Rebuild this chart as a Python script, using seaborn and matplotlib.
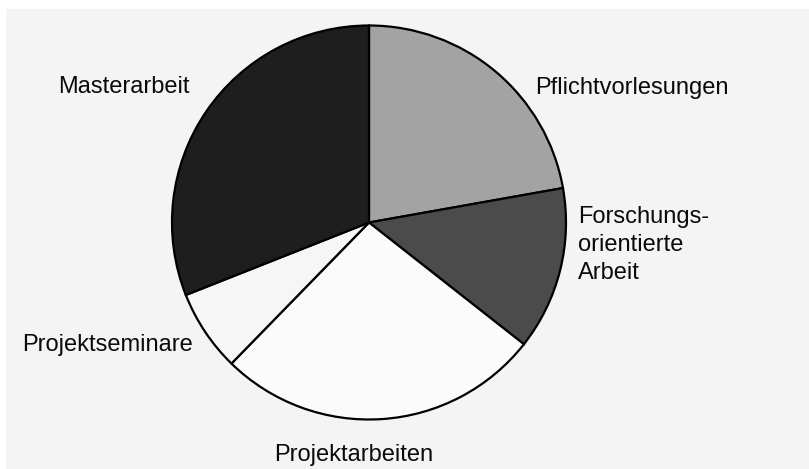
import matplotlib
matplotlib.use("Agg")
import matplotlib.pyplot as plt
import seaborn as sns
from matplotlib.patches import Rectangle

sns.set_style("white")
plt.rcParams["font.family"] = ["Liberation Sans", "DejaVu Sans"]

# shares of the study programme, clockwise from 12 o'clock
categories = ["Pflichtvorlesungen", "Forschungs-\norientierte\nArbeit",
              "Projektarbeiten", "Projektseminare", "Masterarbeit"]
shares = [22.2, 13.4, 26.7, 6.7, 31.0]
colors = ["#a3a3a3", "#4b4b4b", "#fbfbfb", "#f6f6f6", "#1e1e1e"]

# label anchors (pie radius = 1) and alignment
label_pos = {
    "Pflichtvorlesungen": (0.843, 0.683, "left"),
    "Forschungs-\norientierte\nArbeit": (1.061, -0.114, "left"),
    "Projektarbeiten": (-0.076, -1.18, "center"),
    "Projektseminare": (-0.893, -0.622, "right"),
    "Masterarbeit": (-0.909, 0.688, "right"),
}

fig = plt.figure(figsize=(8.09, 4.69), dpi=100, facecolor="white")
fig.patches.append(Rectangle((6 / 809, 0), 1, 460 / 469, transform=fig.transFigure,
                             facecolor="#f4f4f4", edgecolor="none", zorder=-10))
ax = fig.add_axes([0, 0, 1, 1])
ax.set_facecolor("none")
ax.set_zorder(5)

ax.pie(shares, colors=colors, startangle=90, counterclock=False,
       wedgeprops=dict(edgecolor="black", linewidth=1.6))

for name in categories:
    x, y, ha = label_pos[name]
    ax.text(x, y, name, ha=ha, va="center", fontsize=17, color="#0a0a0a",
            linespacing=1.35, multialignment="left")

ax.set_aspect("auto")
ax.set_xlim(-369 / 197, 440 / 197)
ax.set_ylim(-246.5 / 197, 222.5 / 197)
ax.axis("off")

fig.savefig("out.png", dpi=100, facecolor=fig.get_facecolor())
